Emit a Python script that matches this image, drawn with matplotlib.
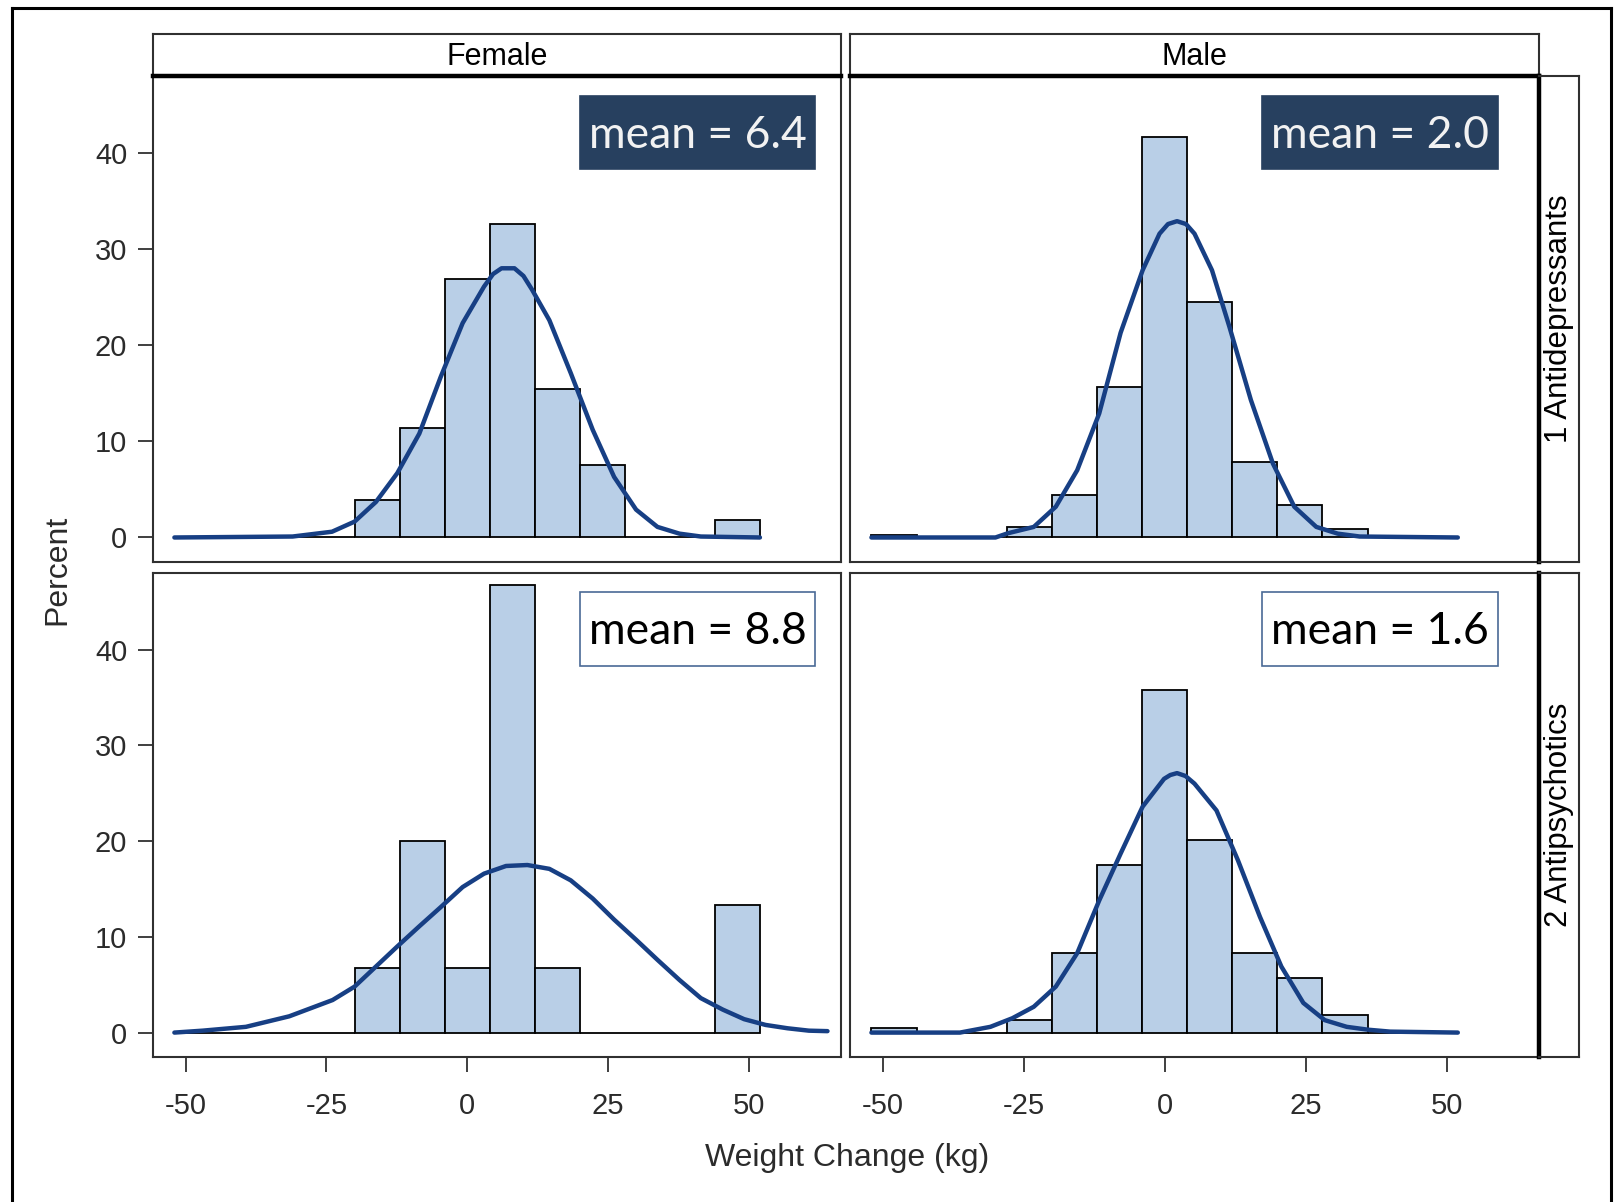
import matplotlib
matplotlib.use('Agg')
import matplotlib.pyplot as plt
from matplotlib.patches import Rectangle
from matplotlib.lines import Line2D

plt.rcParams['font.family'] = ['Liberation Sans', 'DejaVu Sans']
plt.rcParams['axes.unicode_minus'] = False

# --- data ----------------------------------------------------------------
bin_centers = [-48, -40, -32, -24, -16, -8, 0, 8, 16, 24, 32, 40, 48]
bin_width = 8

female_antidep = [0, 0, 0, 0, 3.9, 11.4, 26.9, 32.6, 15.4, 7.5, 0, 0, 1.8]
male_antidep = [0.3, 0, 0, 1.1, 4.4, 15.7, 41.7, 24.5, 7.9, 3.4, 0.85, 0, 0]
female_antipsy = [0, 0, 0, 0, 6.7, 20.0, 6.7, 46.7, 6.7, 0, 0, 0, 13.3]
male_antipsy = [0.5, 0, 0, 1.3, 8.3, 17.5, 35.8, 20.1, 8.3, 5.7, 1.8, 0, 0]

# density curves (percent scale)
fa_curve_x = [-52, -31, -24, -20, -16.2, -12.4, -8.5, -4.7, -0.8, 3.0, 4.6,
              6.1, 8.4, 10.0, 11.5, 14.6, 18.4, 22.3, 26.1, 30.0, 33.8, 37.7,
              41.5, 52]
fa_curve_y = [0, 0.1, 0.6, 1.65, 3.7, 6.7, 10.8, 16.7, 22.3, 26.1, 27.4,
              28.0, 28.0, 27.2, 25.8, 22.6, 17.1, 11.2, 6.3, 2.9, 1.1, 0.4,
              0.1, 0]

ma_curve_x = [-52, -30, -27.8, -23.2, -19.3, -15.5, -11.6, -7.8, -3.9, -0.9,
              0.6, 2.2, 3.8, 5.3, 8.4, 11.5, 15.3, 19.2, 23.0, 26.9, 30.7,
              34.6, 52]
ma_curve_y = [0, 0, 0.44, 1.1, 3.2, 7.0, 12.9, 21.3, 27.8, 31.6,
              32.6, 32.9, 32.6, 31.6, 27.8, 21.9, 14.3, 7.7, 3.2, 1.1, 0.4,
              0.1, 0]

fp_curve_x = [-52, -47, -39.3, -31.6, -23.9, -20, -16.2, -12.4, -8.5, -4.7,
              -0.8, 3.0, 6.9, 10.7, 14.6, 18.4, 22.3, 26.1, 30.0, 33.8, 37.7,
              41.5, 45.4, 49.2, 53.0, 56.9, 60.7, 64]
fp_curve_y = [0, 0.2, 0.6, 1.7, 3.4, 4.8, 6.9, 9.0, 11.1, 13.1,
              15.2, 16.6, 17.4, 17.5, 17.1, 15.9, 14.0, 11.8, 9.7, 7.6, 5.5,
              3.6, 2.4, 1.4, 0.8, 0.45, 0.2, 0.15]

mp_curve_x = [-52, -36.3, -30.9, -27.0, -23.2, -19.3, -15.5, -11.6, -7.8,
              -3.9, -0.1, 1.0, 2.2, 3.7, 5.3, 9.2, 13.0, 16.9, 20.7, 24.6,
              28.4, 32.3, 36.1, 40.0, 52]
mp_curve_y = [0, 0, 0.6, 1.5, 2.7, 4.8, 8.3, 13.8, 18.7,
              23.6, 26.5, 26.9, 27.1, 26.8, 26.0, 23.2, 18.0, 12.1, 6.9, 3.1,
              1.3, 0.6, 0.3, 0.1, 0]

means = ['mean = 6.4', 'mean = 2.0', 'mean = 8.8', 'mean = 1.6']
col_labels = ['Female', 'Male']
row_labels = ['1 Antidepressants', '2 Antipsychotics']
x_ticks = [-50, -25, 0, 25, 50]
x_ticklabels = ['-50', '-25', '0', '25', '50']
y_ticks = [0, 10, 20, 30, 40]
y_ticklabels = ['0', '10', '20', '30', '40']

# --- layout (pixels of a 1624x1202 canvas) ---------------------------------
W, H = 1624, 1202
BAR_COLOR = '#B9CFE7'
CURVE_COLOR = '#173F84'
BOX_COLOR = '#27405F'
TEXT_GREY = '#2b2b2b'


def frac(x0, y0, x1, y1):
    """Pixel box (top-left origin) -> figure fraction [l, b, w, h]."""
    return [x0 / W, 1 - y1 / H, (x1 - x0) / W, (y1 - y0) / H]


fig = plt.figure(figsize=(W / 100, H / 100), dpi=100)
fig.patch.set_facecolor('white')

# outer frame of the screenshot
for xs, ys in [((12, 1611), (8, 8)), ((12, 12), (8, H)), ((1611, 1611), (8, H))]:
    fig.add_artist(Line2D([x / W for x in xs], [1 - y / H for y in ys],
                          color='black', lw=2.2))

col_x = [(153, 841), (850, 1539)]
row_y = [(76, 562), (573, 1057)]

panels = [
    (female_antidep, fa_curve_x, fa_curve_y),
    (male_antidep, ma_curve_x, ma_curve_y),
    (female_antipsy, fp_curve_x, fp_curve_y),
    (male_antipsy, mp_curve_x, mp_curve_y),
]
mean_boxes_x = [(580, 815), (1262, 1498)]
mean_boxes_y = [(96, 169), (592, 666)]

for r in range(2):
    for c in range(2):
        vals, cx, cy = panels[r * 2 + c]
        x0, x1 = col_x[c]
        y0, y1 = row_y[r]
        ax = fig.add_axes(frac(x0, y0, x1, y1))
        ax.bar(bin_centers, vals, width=bin_width, color=BAR_COLOR,
               edgecolor='black', linewidth=1.3, zorder=2)
        ax.plot(cx, cy, color=CURVE_COLOR, lw=3.2, zorder=3,
                solid_joinstyle='round', solid_capstyle='round')
        ax.set_xlim(-55.8, 66.4)
        ax.set_ylim(-2.55, 48.0)
        for sp in ax.spines.values():
            sp.set_color('#303030')
            sp.set_linewidth(1.5)
        ax.tick_params(direction='out', length=10.5, width=1.3,
                       color='#303030', labelcolor=TEXT_GREY, labelsize=21)
        if c == 0:
            ax.set_yticks(y_ticks)
            ax.set_yticklabels(y_ticklabels)
            ax.tick_params(axis='y', pad=8)
        else:
            ax.set_yticks([])
        if r == 1:
            ax.set_xticks(x_ticks)
            ax.set_xticklabels(x_ticklabels)
            ax.tick_params(axis='x', pad=15)
        else:
            ax.set_xticks([])

        # mean annotation box
        bx0, bx1 = mean_boxes_x[c]
        by0, by1 = mean_boxes_y[r]
        if r == 0:
            face, edge, tcol = BOX_COLOR, BOX_COLOR, '#F2F2F2'
        else:
            face, edge, tcol = 'white', '#4A6A96', 'black'
        fig.add_artist(Rectangle((bx0 / W, 1 - by1 / H), (bx1 - bx0) / W,
                                 (by1 - by0) / H, transform=fig.transFigure,
                                 facecolor=face, edgecolor=edge, lw=1.2,
                                 zorder=5))
        fig.text((bx0 + bx1) / 2 / W, 1 - ((by0 + by1) / 2 + 3) / H,
                 means[r * 2 + c], ha='center', va='center', color=tcol,
                 fontsize=32, family=['Lato', 'DejaVu Sans'], zorder=6)

# column headers
for c in range(2):
    x0, x1 = col_x[c]
    hax = fig.add_axes(frac(x0, 34, x1, 76))
    hax.set_xticks([])
    hax.set_yticks([])
    for sp in hax.spines.values():
        sp.set_color('#303030')
        sp.set_linewidth(1.5)
    hax.spines['bottom'].set_color('black')
    hax.spines['bottom'].set_linewidth(3.2)
    hax.text(0.5, 0.45, col_labels[c], ha='center', va='center',
             fontsize=22, color='black', transform=hax.transAxes)

# row headers on the right
for r in range(2):
    y0, y1 = row_y[r]
    sax = fig.add_axes(frac(1539, y0, 1579, y1))
    sax.set_xticks([])
    sax.set_yticks([])
    for sp in sax.spines.values():
        sp.set_color('#303030')
        sp.set_linewidth(1.5)
    sax.spines['left'].set_color('black')
    sax.spines['left'].set_linewidth(3.2)
    sax.text(0.5, 0.5, row_labels[r], ha='center', va='center',
             rotation=90, fontsize=22.5, color='black',
             transform=sax.transAxes)

fig.text(57 / W, 1 - 570 / H, 'Percent', rotation=90, ha='center',
         va='center', fontsize=23, color=TEXT_GREY)
fig.text(847 / W, 1 - 1158 / H, 'Weight Change (kg)', ha='center',
         va='center', fontsize=23, color=TEXT_GREY)

fig.savefig('out.png', dpi=100)
